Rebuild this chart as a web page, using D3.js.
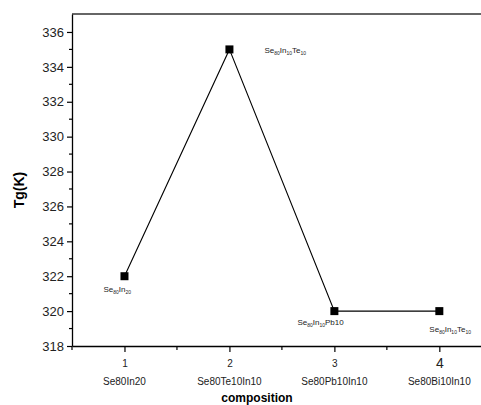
<!DOCTYPE html>
<html><head><meta charset="utf-8">
<script src="https://cdn.jsdelivr.net/npm/d3@7"></script>
<style>body{margin:0;background:#fff}svg{display:block}text{font-family:Arial,"Liberation Sans",sans-serif}</style>
</head><body>
<svg id="c" width="481" height="405"></svg>
<script>
const xValues = [1, 2, 3, 4];
const tgValues = [322, 335, 320, 320];
const categories = ["Se80In20", "Se80Te10In10", "Se80Pb10In10", "Se80Bi10In10"];
const xTickLabels = ["1", "2", "3", "4"];
const yTicks = [318, 320, 322, 324, 326, 328, 330, 332, 334, 336];
// point annotations: [text, isSubscript] pairs
const annotations = [
  {i:0, parts:[["Se",0],["80",1],["In",0],["20",1]], dx:-21, dy:16},
  {i:1, parts:[["Se",0],["80",1],["In",0],["10",1],["Te",0],["10",1]], dx:35, dy:4},
  {i:2, parts:[["Se",0],["80",1],["In",0],["10",1],["Pb10",0]], dx:-37, dy:14},
  {i:3, parts:[["Se",0],["80",1],["In",0],["10",1],["Te",0],["10",1]], dx:-10, dy:21}
];

const svg = d3.select("#c");
const L = 72, R = 481, T = 14, B = 346;
const x = d3.scaleLinear().domain([0.5, 4.397]).range([L, R]);
const y = d3.scaleLinear().domain([318, 337.03]).range([B, T]);

// top frame line
svg.append("line").attr("x1", L).attr("x2", R).attr("y1", T).attr("y2", T)
  .attr("stroke", "#333").attr("stroke-width", 1.6);

// y axis
const yAx = svg.append("g").attr("transform", `translate(${L},0)`)
  .call(d3.axisLeft(y).tickValues(yTicks).tickSize(5).tickSizeOuter(0).tickPadding(3));
yAx.select(".domain").attr("stroke", "#000").attr("stroke-width", 1.3);
yAx.selectAll(".tick line").attr("stroke-width", 1.2);
yAx.selectAll(".tick text").attr("font-size", 13).attr("fill", "#222");
const yMinor = d3.range(319, 337, 2);
svg.append("g").selectAll("line").data(yMinor).join("line")
  .attr("x1", L - 3).attr("x2", L).attr("y1", d => y(d)).attr("y2", d => y(d))
  .attr("stroke", "#000").attr("stroke-width", 1.2);

// x axis
const xAx = svg.append("g").attr("transform", `translate(0,${B})`)
  .call(d3.axisBottom(x).tickValues(xValues).tickSize(6).tickSizeOuter(0).tickFormat((d,i) => xTickLabels[i]).tickPadding(6));
xAx.select(".domain").attr("stroke", "#000").attr("stroke-width", 1.3);
xAx.selectAll(".tick line").attr("stroke-width", 1.2);
xAx.selectAll(".tick text").attr("font-size", (d,i) => i === 3 ? 14 : 10).attr("fill", "#222")
  .attr("dy", (d,i) => i === 3 ? "0.71em" : "0.9em");
svg.append("g").selectAll("line").data([0.5, 1.5, 2.5, 3.5]).join("line")
  .attr("x1", d => x(d)).attr("x2", d => x(d)).attr("y1", B).attr("y2", B + 4)
  .attr("stroke", "#000").attr("stroke-width", 1.2);

// category labels
svg.append("g").selectAll("text").data(categories).join("text")
  .attr("x", (d,i) => x(xValues[i])).attr("y", 385).attr("text-anchor", "middle")
  .attr("font-size", 10).attr("fill", "#222").text(d => d);

// axis titles
svg.append("text").attr("x", 257).attr("y", 402).attr("text-anchor", "middle")
  .attr("font-size", 12).attr("font-weight", "bold").text("composition");
svg.append("text").attr("transform", "translate(24,190) rotate(-90)").attr("text-anchor", "middle")
  .attr("font-size", 14).attr("font-weight", "bold").text("Tg(K)");

// line
const pts = xValues.map((v,i) => [v, tgValues[i]]);
svg.append("path").datum(pts)
  .attr("d", d3.line().x(d => x(d[0])).y(d => y(d[1])))
  .attr("fill", "none").attr("stroke", "#000").attr("stroke-width", 1.1);
svg.append("g").selectAll("rect").data(pts).join("rect")
  .attr("x", d => x(d[0]) - 4).attr("y", d => y(d[1]) - 4)
  .attr("width", 8).attr("height", 8).attr("fill", "#000");

// annotations
annotations.forEach(a => {
  const t = svg.append("text")
    .attr("x", x(xValues[a.i]) + a.dx).attr("y", y(tgValues[a.i]) + a.dy)
    .attr("font-size", 8).attr("fill", "#222");
  let prevSub = false;
  a.parts.forEach(([s, sub]) => {
    if (sub) t.append("tspan").attr("font-size", 5).attr("dy", prevSub ? 0 : 2).text(s);
    else t.append("tspan").attr("dy", prevSub ? -2 : 0).text(s);
    prevSub = !!sub;
  });
});
</script>
</body></html>
